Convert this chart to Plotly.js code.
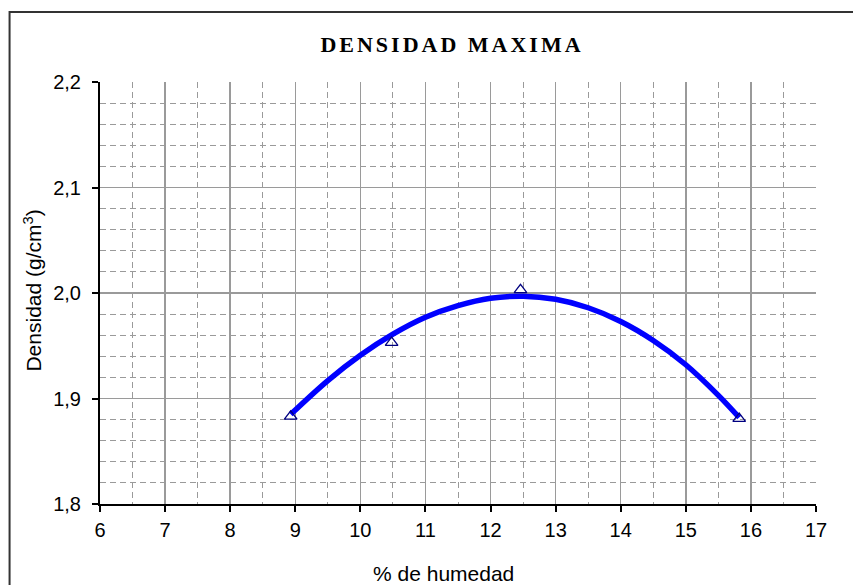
<!DOCTYPE html>
<html>
<head>
<meta charset="utf-8">
<script src="https://cdn.plot.ly/plotly-3.0.1.min.js"></script>
<style>
  html, body { margin: 0; padding: 0; background: #ffffff; }
  #chart { width: 853px; height: 585px; }
  .gtitle { letter-spacing: 3px; }
</style>
</head>
<body>
<div id="chart"></div>
<script>
// Measured points (humidity %, density g/cm3)
const humedad = [8.93, 10.48, 12.46, 15.82];
const densidad = [1.883, 1.953, 2.003, 1.881];

// Trend curve
const curvaX = [8.93, 9.5, 10, 10.5, 11, 11.5, 12, 12.5, 13, 13.5, 14, 14.5, 15, 15.5, 15.82];
const curvaY = [1.885, 1.917, 1.941, 1.961, 1.977, 1.988, 1.995, 1.997, 1.994, 1.986, 1.973, 1.955, 1.932, 1.903, 1.882];

const xTicks = [6, 7, 8, 9, 10, 11, 12, 13, 14, 15, 16, 17];
const yTicks = [1.8, 1.9, 2.0, 2.1, 2.2];
const yTickLabels = ['1,8', '1,9', '2,0', '2,1', '2,2'];

const FONT = '"Liberation Sans Narrow", "Arial Narrow", "Liberation Sans", Arial, sans-serif';

const traces = [
  {
    x: curvaX, y: curvaY, type: 'scatter', mode: 'lines',
    line: { color: '#0000ff', width: 5.5, shape: 'spline', smoothing: 1 },
    hoverinfo: 'skip', showlegend: false
  },
  {
    x: humedad, y: densidad, type: 'scatter', mode: 'markers',
    marker: { symbol: 'triangle-up-open', size: 11, color: '#000080', line: { width: 1.3, color: '#000080' } },
    showlegend: false
  }
];

// plot area in pixels: x 99.5..816, y 82..504
const L = 99.5, R = 816, T = 82, B = 504;
const pw = R - L, ph = B - T;
function px(xp) { return (xp - L) / pw; }
function py(yp) { return (B - yp) / ph; }

const layout = {
  width: 853, height: 585,
  margin: { l: L, r: 853 - R, t: T, b: 585 - B, pad: 0 },
  paper_bgcolor: '#ffffff', plot_bgcolor: '#ffffff',
  separators: ',.',
  font: { family: FONT, color: '#000000', size: 20 },
  title: {
    text: '<b>DENSIDAD MAXIMA</b>',
    font: { family: 'Liberation Serif, Times New Roman, serif', size: 22, color: '#000000' },
    x: 452 / 853, xanchor: 'center', y: 1 - 44 / 585, yanchor: 'middle'
  },
  xaxis: {
    range: [6, 17], tickvals: xTicks, ticktext: xTicks.map(String),
    showline: true, linecolor: '#000000', linewidth: 2,
    ticks: 'outside', ticklen: 6, tickwidth: 2, tickcolor: '#000000',
    ticklabelstandoff: 1,
    showgrid: true, gridcolor: '#9a9a9a', gridwidth: 1.5,
    zeroline: false,
    minor: { dtick: 0.5, tick0: 6, showgrid: true, gridcolor: '#9a9a9a', griddash: '6px,4px', gridwidth: 1, ticks: '' },
    tickfont: { size: 20, family: FONT, color: '#000000' },
    fixedrange: true
  },
  yaxis: {
    range: [1.8, 2.2], tickvals: yTicks, ticktext: yTickLabels,
    showline: true, linecolor: '#000000', linewidth: 2,
    ticks: 'outside', ticklen: 6, tickwidth: 2, tickcolor: '#000000',
    ticklabelstandoff: 7,
    showgrid: true, gridcolor: '#9a9a9a', gridwidth: 1.5,
    zeroline: false,
    minor: { dtick: 0.02, tick0: 1.8, showgrid: true, gridcolor: '#9a9a9a', griddash: '6px,4px', gridwidth: 1, ticks: '' },
    tickfont: { size: 20, family: FONT, color: '#000000' },
    fixedrange: true
  },
  annotations: [
    {
      text: '% de humedad', xref: 'paper', yref: 'paper',
      x: px(443), y: py(573), xanchor: 'center', yanchor: 'middle',
      showarrow: false, font: { size: 21, family: FONT, color: '#000000' }
    },
    {
      text: 'Densidad (g/cm<sup>3</sup>)', xref: 'paper', yref: 'paper',
      x: px(32), y: py(291), xanchor: 'center', yanchor: 'middle', textangle: -90,
      showarrow: false, font: { size: 21, family: FONT, color: '#000000' }
    }
  ],
  shapes: [
    {
      type: 'path', xref: 'paper', yref: 'paper',
      path: 'M ' + px(9) + ' ' + py(600) + ' L ' + px(9) + ' ' + py(12) + ' L ' + px(860) + ' ' + py(12),
      line: { color: '#333333', width: 2 }
    }
  ]
};

Plotly.newPlot('chart', traces, layout, { displayModeBar: false, staticPlot: true });
</script>
</body>
</html>
